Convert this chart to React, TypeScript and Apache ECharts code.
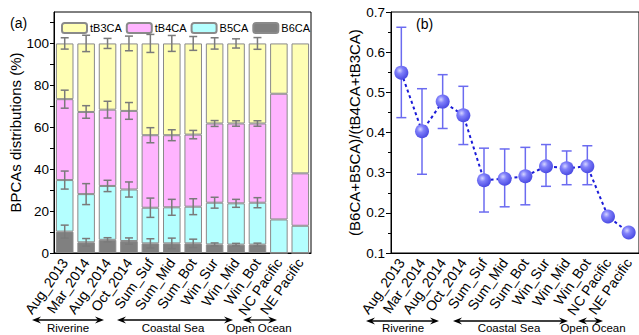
import React, { useEffect, useRef } from "react";
import * as echarts from "echarts";

const categories = ["Aug_2013", "Mar_2014", "Aug_2014", "Oct_2014", "Sum_Suf", "Sum_Mid", "Sum_Bot", "Win_Sur", "Win_Mid", "Win_Bot", "NC Pacific", "NE Pacific"];

const b6ca = [10.2, 5.1, 6.3, 5.7, 4.6, 4.6, 4.6, 4.1, 4.0, 4.0, 0, 0];
const b5ca = [24.6, 23.0, 25.7, 24.6, 17.0, 17.2, 17.5, 19.9, 19.7, 20.0, 16.0, 13.0];
const tb4ca = [38.6, 39.2, 36.4, 37.5, 34.6, 34.4, 34.4, 37.8, 38.1, 37.8, 60.0, 25.0];
const tb3ca = [26.6, 32.7, 31.6, 32.2, 43.8, 43.8, 43.5, 38.2, 38.2, 38.2, 24.0, 62.0];

const errB6 = [3.1, 1.8, 1.0, 1.5, 2.2, 2.5, 2.0, 0.7, 0.6, 0.7, 0, 0];
const errB5 = [4.3, 5.0, 2.7, 3.6, 4.6, 3.8, 3.8, 2.6, 1.9, 2.4, 0, 0];
const errTB4 = [4.3, 3.0, 4.0, 4.0, 3.6, 2.6, 2.0, 1.4, 1.3, 1.3, 0, 0];
const errTB3 = [2.7, 3.9, 2.4, 3.5, 4.3, 3.8, 3.3, 2.7, 2.2, 2.8, 0, 0];

const ratio = [0.549, 0.403, 0.477, 0.443, 0.281, 0.285, 0.291, 0.316, 0.311, 0.316, 0.191, 0.151];
const ratioLow = [0.437, 0.296, 0.41, 0.37, 0.202, 0.215, 0.22, 0.266, 0.27, 0.27, null, null];
const ratioHigh = [0.662, 0.509, 0.544, 0.515, 0.361, 0.359, 0.363, 0.37, 0.354, 0.367, null, null];

const leftTicks = [0, 20, 40, 60, 80, 100];
const regions = ["Riverine", "Coastal Sea", "Open Ocean"];

const FONT = "Liberation Sans, Arial, sans-serif";

function arrow(x1: number, x2: number, y: number) {
  const h = 9, w = 3.5;
  return {
    type: "group",
    children: [
      { type: "line", shape: { x1: x1 + 4, y1: y, x2: x2 - 4, y2: y }, style: { stroke: "#000", lineWidth: 1.3 } },
      { type: "polygon", shape: { points: [[x1, y], [x1 + h, y - w], [x1 + h - 3, y], [x1 + h, y + w]] }, style: { fill: "#000" } },
      { type: "polygon", shape: { points: [[x2, y], [x2 - h, y - w], [x2 - h + 3, y], [x2 - h, y + w]] }, style: { fill: "#000" } },
    ],
  };
}

function label(text: string, x: number, y: number) {
  return { type: "text", x, y, style: { text, font: `11.5px ${FONT}`, fill: "#000", textAlign: "center", textVerticalAlign: "middle" } };
}

export default function App() {
  const ref = useRef<HTMLDivElement>(null);
  useEffect(() => {
    const chart = echarts.init(ref.current!, null, { renderer: "svg" });

    const cum1 = b6ca.map((v) => v);
    const cum2 = b6ca.map((v, i) => v + b5ca[i]);
    const cum3 = cum2.map((v, i) => v + tb4ca[i]);
    const cum4 = cum3.map((v, i) => v + tb3ca[i]);
    const errData: number[][] = [];
    categories.forEach((_, i) => {
      if (errB6[i] > 0) errData.push([i, cum1[i], errB6[i]]);
      if (errB5[i] > 0) errData.push([i, cum2[i], errB5[i]]);
      if (errTB4[i] > 0) errData.push([i, cum3[i], errTB4[i]]);
      if (errTB3[i] > 0) errData.push([i, cum4[i], errTB3[i]]);
    });
    const ratioErr: number[][] = [];
    categories.forEach((_, i) => {
      if (ratioLow[i] != null && ratioHigh[i] != null) ratioErr.push([i, ratioLow[i] as number, ratioHigh[i] as number]);
    });

    const axisLine = { lineStyle: { color: "#000", width: 1 } };
    const barBorder = { borderColor: "#8a8a8a", borderWidth: 1 };

    chart.setOption({
      animation: false,
      textStyle: { fontFamily: FONT },
      grid: [
        { left: 54, top: 12, width: 257, height: 241, show: true, borderColor: "#000", borderWidth: 1, backgroundColor: "transparent" },
        { left: 391, top: 12, width: 256, height: 241, show: true, borderColor: "#000", borderWidth: 1, backgroundColor: "transparent" },
      ],
      legend: {
        left: 56,
        top: 17,
        itemWidth: 25,
        itemHeight: 10,
        itemGap: 4,
        selectedMode: false,
        data: ["tB3CA", "tB4CA", "B5CA", "B6CA"],
        textStyle: { fontSize: 11, color: "#000", fontFamily: FONT, padding: [0, 0, 0, -2] },
      },
      xAxis: [
        {
          type: "category",
          gridIndex: 0,
          data: categories,
          axisLine,
          axisTick: { alignWithLabel: true, length: 5, lineStyle: { color: "#000" } },
          axisLabel: { rotate: 55, fontSize: 14, color: "#000", margin: 7, interval: 0, fontFamily: FONT },
        },
        {
          type: "category",
          gridIndex: 1,
          data: categories,
          axisLine,
          axisTick: { alignWithLabel: true, length: 5, lineStyle: { color: "#000" } },
          axisLabel: { rotate: 55, fontSize: 14, color: "#000", margin: 7, interval: 0, fontFamily: FONT },
        },
      ],
      yAxis: [
        {
          type: "value",
          gridIndex: 0,
          min: 0,
          max: 115,
          interval: 10,
          name: "BPCAs distributions (%)",
          nameLocation: "middle",
          nameGap: 27,
          nameTextStyle: { fontSize: 15, color: "#000", fontFamily: FONT },
          axisLine: { show: true, lineStyle: { color: "#000" } },
          axisTick: { show: true, length: 4, lineStyle: { color: "#000" } },
          splitLine: { show: false },
          axisLabel: {
            fontSize: 13.5,
            color: "#000",
            margin: 5,
            showMaxLabel: false,
            formatter: (v: number) => (leftTicks.indexOf(v) >= 0 ? String(v) : ""),
          },
        },
        {
          type: "value",
          gridIndex: 1,
          min: 0.1,
          max: 0.7,
          interval: 0.1,
          name: "(B6CA+B5CA)/(tB4CA+tB3CA)",
          nameLocation: "middle",
          nameGap: 29,
          nameTextStyle: { fontSize: 15, color: "#000", fontFamily: FONT },
          axisLine: { show: true, lineStyle: { color: "#000" } },
          axisTick: { show: true, length: 5, lineStyle: { color: "#000" } },
          minorTick: { show: true, splitNumber: 2, length: 3, lineStyle: { color: "#000" } },
          splitLine: { show: false },
          axisLabel: { fontSize: 13.5, color: "#000", margin: 6, formatter: (v: number) => v.toFixed(1) },
        },
      ],
      series: [
        { name: "B6CA", type: "bar", stack: "a", xAxisIndex: 0, yAxisIndex: 0, barWidth: "82%", data: b6ca, itemStyle: { color: "#808080", ...barBorder } },
        { name: "B5CA", type: "bar", stack: "a", xAxisIndex: 0, yAxisIndex: 0, barWidth: "82%", data: b5ca, itemStyle: { color: "#b4ffff", ...barBorder } },
        { name: "tB4CA", type: "bar", stack: "a", xAxisIndex: 0, yAxisIndex: 0, barWidth: "82%", data: tb4ca, itemStyle: { color: "#ffb4ff", ...barBorder } },
        { name: "tB3CA", type: "bar", stack: "a", xAxisIndex: 0, yAxisIndex: 0, barWidth: "82%", data: tb3ca, itemStyle: { color: "#ffffb4", ...barBorder } },
        {
          type: "custom",
          xAxisIndex: 0,
          yAxisIndex: 0,
          z: 10,
          data: errData,
          encode: { x: 0, y: 1 },
          renderItem: (_p: any, api: any) => {
            const x = api.value(0), c = api.value(1), e = api.value(2);
            const hi = api.coord([x, c + e]);
            const lo = api.coord([x, c - e]);
            const hw = 4;
            const st = { stroke: "#7a7a7a", lineWidth: 1.5 };
            return {
              type: "group",
              children: [
                { type: "line", shape: { x1: hi[0], y1: hi[1], x2: lo[0], y2: lo[1] }, style: st },
                { type: "line", shape: { x1: hi[0] - hw, y1: hi[1], x2: hi[0] + hw, y2: hi[1] }, style: st },
                { type: "line", shape: { x1: lo[0] - hw, y1: lo[1], x2: lo[0] + hw, y2: lo[1] }, style: st },
              ],
            };
          },
        },
        {
          type: "custom",
          xAxisIndex: 1,
          yAxisIndex: 1,
          z: 2,
          data: ratioErr,
          encode: { x: 0, y: [1, 2] },
          renderItem: (_p: any, api: any) => {
            const x = api.value(0);
            const lo = api.coord([x, api.value(1)]);
            const hi = api.coord([x, api.value(2)]);
            const hw = 5;
            const st = { stroke: "#6b6bf0", lineWidth: 1.5 };
            return {
              type: "group",
              children: [
                { type: "line", shape: { x1: hi[0], y1: hi[1], x2: lo[0], y2: lo[1] }, style: st },
                { type: "line", shape: { x1: hi[0] - hw, y1: hi[1], x2: hi[0] + hw, y2: hi[1] }, style: st },
                { type: "line", shape: { x1: lo[0] - hw, y1: lo[1], x2: lo[0] + hw, y2: lo[1] }, style: st },
              ],
            };
          },
        },
        {
          type: "line",
          xAxisIndex: 1,
          yAxisIndex: 1,
          z: 5,
          data: ratio,
          symbol: "circle",
          symbolSize: 14,
          lineStyle: { color: "#1a1ad8", width: 2, type: [3, 3] },
          itemStyle: {
            color: new echarts.graphic.RadialGradient(0.38, 0.35, 0.7, [
              { offset: 0, color: "#d4d4ff" },
              { offset: 0.35, color: "#8080fa" },
              { offset: 1, color: "#4545e0" },
            ]),
          },
        },
      ],
      graphic: [
        { type: "text", x: 10, y: 16, style: { text: "(a)", font: `14px ${FONT}`, fill: "#000" } },
        { type: "text", x: 416, y: 17, style: { text: "(b)", font: `14px ${FONT}`, fill: "#000" } },
        arrow(32, 104, 320),
        arrow(117, 233, 320),
        arrow(243, 277, 320),
        label(regions[0], 68, 328),
        label(regions[1], 173, 328),
        label(regions[2], 259, 328),
        arrow(366, 439, 321),
        arrow(453, 568, 321),
        arrow(578, 603, 321),
        label(regions[0], 403, 328),
        label(regions[1], 509, 328),
        label(regions[2], 593, 328),
      ],
    });
    return () => chart.dispose();
  }, []);
  return <div ref={ref} style={{ position: "fixed", left: 0, top: 0, width: 639, height: 335, background: "#fff" }} />;
}
